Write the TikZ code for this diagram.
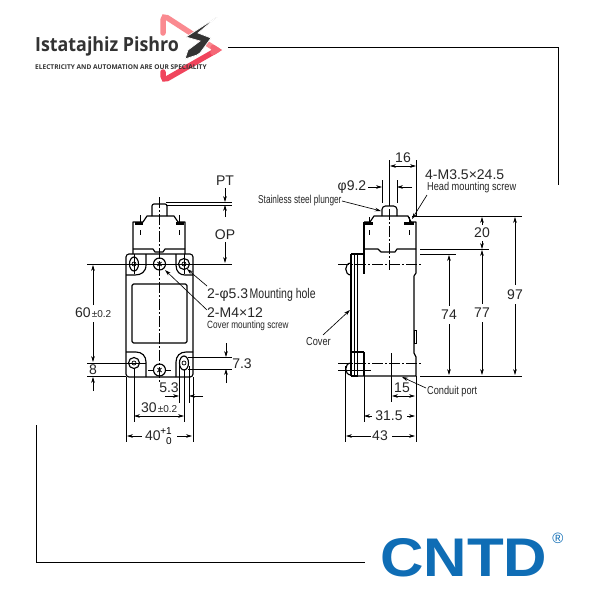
\documentclass[tikz,border=0pt]{standalone}
\usepackage{fontspec}
\setmainfont{Liberation Sans}
\newfontfamily\logofont{Open Sans}
\usetikzlibrary{arrows.meta}
\definecolor{cntdblue}{HTML}{0F6DB5}
\definecolor{logodark}{HTML}{333333}
\definecolor{logotop}{HTML}{FA8A90}
\definecolor{logobot}{HTML}{F0445C}
\tikzset{
 obj/.style={line width=1.15pt,line join=round,black},
 thin obj/.style={line width=.7pt,black},
 dimln/.style={line width=.65pt,black},
 arr/.style={dimln,-{Stealth[length=6pt,width=3.6pt]}},
 darr/.style={dimln,{Stealth[length=6pt,width=3.6pt]}-{Stealth[length=6pt,width=3.6pt]}},
 cl/.style={line width=.6pt,black,dash pattern=on 11pt off 2pt on 2pt off 2pt},
 lab/.style={inner sep=0pt,font=\fontsize{14}{15}\selectfont,black!85},
 small/.style={inner sep=0pt,font=\fontsize{11.5}{12}\selectfont,black!85,anchor=west},
}
\newcommand{\narrow}[2][.78]{\scalebox{#1}[1]{#2}}
\begin{document}
\begin{tikzpicture}[x=1pt,y=-1pt]
\useasboundingbox (0,0) rectangle (600,600);
\fill[white] (0,0) rectangle (600,600);
% frame
\draw[line width=.8pt] (228,47) -- (558,47) -- (558,185);
\draw[line width=.8pt] (36,425) -- (36,562) -- (365,562);
% logo
\draw[logotop,line width=5.5pt,line cap=round,rounded corners=5pt] (163,33) -- (163,15) -- (217,50);
\draw[logobot,line width=5.5pt,line cap=round,rounded corners=5pt] (217,50) -- (163,81) -- (163,72);
\draw[logotop!50!logobot,line width=5.5pt,line cap=round] (213,47.5) -- (217,50) -- (213,52.5);
\fill[logodark,draw=white,line width=.7pt,line join=miter] (217,17) -- (186,37) -- (200,41) -- (188,50) -- (185,59) -- (197,55) -- (200,53) -- (211,38) -- (198,33) -- cycle;
\node[inner sep=0pt,anchor=west,text=logodark] (brand) at (35,46) {\logofont\bfseries\fontsize{19.5}{20}\selectfont\scalebox{.915}[1]{Istatajhiz Pishro}};
\node[inner sep=0pt,anchor=west,text=logodark] (slogan) at (35,67) {\logofont\bfseries\fontsize{6.6}{7}\selectfont\scalebox{.995}[1]{ELECTRICITY AND AUTOMATION ARE OUR SPECIALITY}};
% CNTD logo
\node[inner sep=0pt,anchor=north west,text=cntdblue] (cntd) at (380,538) {\resizebox{167pt}{38pt}{\bfseries CNTD}};
\node[inner sep=0pt,text=cntdblue] (reg) at (558,538) {\fontsize{15}{15}\selectfont ®};

% ===== LEFT VIEW =====
% body
\draw[obj,rounded corners=3pt] (126,254) rectangle (193,377);
\draw[obj,rounded corners=1.5pt] (132,284) rectangle (187,343);
% head
\draw[obj] (133,254) -- (133,222) -- (143,222) -- (147,216) -- (174,216) -- (178,222) -- (185,222) -- (185,254);
\draw[obj] (133,249) -- (153,249) -- (155,252) -- (163,252) -- (165,249) -- (185,249);
\draw[obj,rounded corners=2pt] (152,216) -- (152,204) -- (167,204) -- (167,216);
\fill (135,222) rectangle (143,225);
\fill (176,222) rectangle (184,225);
\draw[thin obj] (140,215) -- (140,222) (179,215) -- (179,222) (140,230) -- (140,235) (179,230) -- (179,235);
% pockets
\draw[obj] (146,254) -- (146,265) .. controls (146,272) and (141,275) .. (135,275) -- (126,275);
\draw[obj] (176,254) -- (176,265) .. controls (176,272) and (180,275) .. (185,275) -- (193,275);
\draw[obj] (126,352) -- (136,352) .. controls (142,352) and (146,356) .. (146,362) -- (146,377);
\draw[obj] (193,352) -- (186,352) .. controls (180,352) and (176,356) .. (176,362) -- (176,377);
% holes
\draw[obj] (134,264) ellipse [x radius=4.5pt,y radius=7pt];
\draw[thin obj] (134,264) circle (2pt);
\draw[obj] (184,264) circle (5.5pt);
\draw[thin obj] (184,264) circle (2pt);
\draw[obj] (134,363) circle (5.5pt);
\draw[thin obj] (134,363) circle (2pt);
\draw[obj] (184,363) ellipse [x radius=4.5pt,y radius=7pt];
\draw[thin obj] (184,363) circle (2pt);
\draw[obj] (159.5,264) circle (6pt);
\draw[obj] (159.5,370) circle (6pt);
\draw[line width=.9pt] (157.5,262) -- (161.5,266) (157.5,266) -- (161.5,262) (157.5,368) -- (161.5,372) (157.5,372) -- (161.5,368);
% centre lines
\draw[cl] (159.5,197) -- (159.5,383);
\draw[dimln] (148,370) -- (153,370) (166,370) -- (171,370);
\draw[dimln] (134,254) -- (134,274) (184,254) -- (184,274);
% PT / OP
\draw[dimln] (166,202) -- (232,202) (166,205) -- (232,205);
\draw[dimln] (87,264) -- (232,264);
\draw[arr] (225,188) -- (225,202);
\draw[arr] (225,217) -- (225,205);
\draw[arr] (225,242) -- (225,263);
\node[lab] (pt) at (225,181) {PT};
\node[lab] (op) at (225,235) {OP};
% 60 / 8
\draw[dimln] (87,363) -- (146,363) (87,376) -- (126,376);
\draw[arr] (93,305) -- (93,265);
\draw[arr] (93,322) -- (93,362);
\draw[arr] (93,391) -- (93,377);
\node[lab,anchor=west] (d60) at (75,313) {60{\fontsize{10}{10}\selectfont\kern1pt±0.2}};
\node[lab] (d8) at (93,370) {8};
% 7.3
\draw[dimln] (188,357) -- (232,357) (188,369) -- (232,369);
\draw[arr] (226,343) -- (226,357);
\draw[arr] (226,383) -- (226,369);
\node[lab] (d73) at (242,364) {7.3};
% 5.3
\draw[dimln] (179,360) -- (179,403) (189,366) -- (189,403) (193,377) -- (193,442) (184,370) -- (184,422);
\draw[arr] (165,396) -- (179,396);
\draw[arr] (203,396) -- (189,396);
\node[lab] (d53) at (169,388) {5.3};
% 30
\draw[dimln] (134,369) -- (134,422);
\draw[darr] (134,416) -- (184,416);
\node[lab,anchor=west] (d30) at (141,408) {30{\fontsize{10}{10}\selectfont\kern1pt±0.2}};
% 40
\draw[dimln] (126,377) -- (126,442);
\draw[arr] (142,436) -- (127,436);
\draw[arr] (177,436) -- (192,436);
\node[lab,anchor=west] (d40) at (145,436) {40};
\node[inner sep=0pt,font=\fontsize{10}{10}\selectfont] (p1) at (166,431) {+1};
\node[inner sep=0pt,font=\fontsize{10}{10}\selectfont] (z0) at (169,441) {0};
% notes
\node[lab,anchor=west] (mh) at (207,295) {2-φ5.3\kern1.5pt\narrow[.75]{Mounting hole}};
\node[lab,anchor=west] (cs) at (207,312.5) {2-M4×12};
\node[small,anchor=west,font=\fontsize{10.5}{11}\selectfont] (cms) at (207,326) {\narrow[.78]{Cover mounting screw}};
\coordinate (lh) at (187,269);
\coordinate (ls) at (165,270);
\draw[arr] (207,286) -- (lh);
\draw[arr] (207,310) -- (ls);

% ===== RIGHT VIEW =====
% body
\draw[obj] (364,222) -- (364,254);
\draw[obj] (364,222) -- (370,222) -- (374,216) -- (408,216) -- (411,222) -- (416,222) -- (416,273) -- (414,276) -- (414,353) -- (416,357) -- (416,376) -- (351,376);
\draw[obj] (364,249) -- (378,249) -- (381,252) -- (395,252) -- (397,249) -- (416,249);
\draw[obj,rounded corners=3.5pt] (382,216) -- (382,206) -- (397,206) -- (397,216);
\fill (365,222) rectangle (373,225);
\fill (404,222) rectangle (414,225);
\draw[thin obj] (369,217) -- (369,222) (409,217) -- (409,222) (369,230) -- (369,235) (409,230) -- (409,235);
% cover + bracket
\draw[obj] (351,254) -- (351,376);
\draw[thin obj] (354,254) -- (354,376) (357,254) -- (357,376);
\draw[obj] (351,254) -- (364,254) -- (364,274) (364,352) -- (364,376) (351,352) -- (364,352);
\draw[obj] (351,376) -- (358,376);
\draw[obj] (351,263) .. controls (344,263) and (344,275) .. (351,275);
\draw[obj] (351,363) .. controls (344,363) and (344,375) .. (351,375);
\draw[thin obj] (414,330) rectangle (416,343);
% centre lines
\draw[cl] (389,209) -- (389,270);
\draw[cl] (338,264) -- (422,264);
\draw[cl] (338,363) -- (422,363);
\draw[dimln] (338,370) -- (371,370);
% 16
\draw[dimln] (389,160) -- (389,206) (416,160) -- (416,216);
\draw[darr] (390,166) -- (416,166);
\node[lab] (d16) at (403,158) {16};
% phi 9.2
\draw[dimln] (382,180) -- (382,203) (397,180) -- (397,203);
\draw[arr] (368,187) -- (382,187);
\draw[arr] (412,187) -- (397,187);
\node[lab] (d92) at (352,187) {φ9.2};
% notes
\node[lab,anchor=west] (hm) at (425,175) {4-M3.5×24.5};
\node[small] (hms) at (427,188) {\narrow[.8]{Head mounting screw}};
\node[small] (ssp) at (258,201) {\narrow[.72]{Stainless steel plunger}};
\coordinate (lhm) at (412,219);
\coordinate (lsp) at (381,211);
\draw[arr] (427,195) -- (lhm);
\draw[arr] (342,201) -- (lsp);
\node[small] (cov) at (306,342) {\narrow[.8]{Cover}};
\coordinate (lcv) at (350,310);
\draw[arr] (323,335) -- (lcv);
\node[small] (cp) at (427,392) {\narrow[.8]{Conduit port}};
\coordinate (lcp) at (402,377);
\draw[arr] (426,388) -- (lcp);
% right dims
\draw[dimln] (412,216) -- (522,216) (420,376) -- (522,376) (420,249) -- (489,249) (420,254) -- (456,254);
\draw[arr] (515,285) -- (515,217);
\draw[arr] (515,304) -- (515,375);
\node[lab] (d97) at (515,295) {97};
\draw[arr] (482,225) -- (482,217);
\draw[arr] (482,241) -- (482,249);
\node[lab] (d20) at (482,233) {20};
\draw[arr] (482,304) -- (482,250);
\draw[arr] (482,322) -- (482,375);
\node[lab] (d77) at (482,313) {77};
\draw[arr] (449,306) -- (449,255);
\draw[arr] (449,324) -- (449,375);
\node[lab] (d74) at (449,315) {74};
% bottom right
\draw[dimln] (391,353) -- (391,402) (416,376) -- (416,442) (364,376) -- (364,422) (345,366) -- (345,442);
\draw[darr] (392,396) -- (415,396);
\node[lab] (d15) at (402,388) {15};
\draw[arr] (372,416) -- (364,416);
\draw[arr] (407,416) -- (415,416);
\node[lab] (d315) at (389,416) {31.5};
\draw[arr] (371,436) -- (346,436);
\draw[arr] (392,436) -- (415,436);
\node[lab] (d43) at (380,436) {43};
\end{tikzpicture}
\end{document}
